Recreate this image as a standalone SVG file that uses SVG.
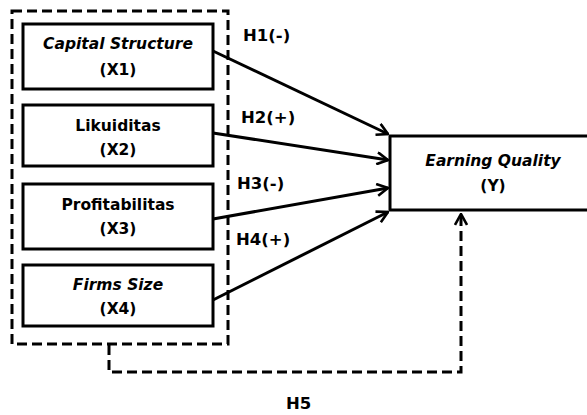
<svg xmlns="http://www.w3.org/2000/svg" width="587" height="415" viewBox="0 0 587 415">
<defs>
<style>
text{font-family:"DejaVu Sans","Verdana",sans-serif;font-weight:bold;fill:#000;text-anchor:middle}
.t{font-size:15.5px}
.i{font-style:italic}
.lbl{font-size:16.5px;text-anchor:start}
.box{fill:#fff;stroke:#000;stroke-width:3}
.dash{fill:none;stroke:#000;stroke-width:3;stroke-dasharray:10 5}
.arr{fill:none;stroke:#000;stroke-width:3}
</style>
<marker id="ah" viewBox="0 0 14 14" refX="13" refY="7" markerWidth="14" markerHeight="14" markerUnits="userSpaceOnUse" orient="auto">
<path d="M2 1 L13 7 L2 13" fill="none" stroke="#000" stroke-width="2.6" stroke-linejoin="miter"/>
</marker>
</defs>
<rect id="group" class="dash" x="12" y="11" width="216" height="333"/>
<g id="x1"><rect class="box" x="23" y="24" width="190" height="65"/><text class="t i" x="118" y="49">Capital Structure</text><text class="t" x="118" y="75">(X1)</text></g>
<g id="x2"><rect class="box" x="23" y="105" width="190" height="61"/><text class="t" x="118" y="131">Likuiditas</text><text class="t" x="118" y="155">(X2)</text></g>
<g id="x3"><rect class="box" x="23" y="184" width="190" height="65"/><text class="t" x="118" y="210">Profitabilitas</text><text class="t" x="118" y="234">(X3)</text></g>
<g id="x4"><rect class="box" x="23" y="265" width="190" height="61"/><text class="t i" x="118" y="290">Firms Size</text><text class="t" x="118" y="314">(X4)</text></g>
<g id="y"><rect class="box" x="390" y="136" width="200" height="74"/><text class="t i" x="493" y="166">Earning Quality</text><text class="t" x="493" y="191">(Y)</text></g>
<g id="connectors">
<line class="arr" x1="213" y1="51" x2="388" y2="134" marker-end="url(#ah)"/>
<line class="arr" x1="213" y1="133" x2="388" y2="160" marker-end="url(#ah)"/>
<line class="arr" x1="213" y1="219" x2="388" y2="188" marker-end="url(#ah)"/>
<line class="arr" x1="213" y1="300" x2="388" y2="212" marker-end="url(#ah)"/>
<polyline class="dash" points="109,345 109,372 461,372 461,214" marker-end="url(#ah)"/>
</g>
<g id="labels">
<text class="lbl" x="243" y="41">H1(-)</text>
<text class="lbl" x="241" y="123">H2(+)</text>
<text class="lbl" x="237" y="189">H3(-)</text>
<text class="lbl" x="236" y="245">H4(+)</text>
<text class="lbl" x="286" y="409">H5</text>
</g>
</svg>
